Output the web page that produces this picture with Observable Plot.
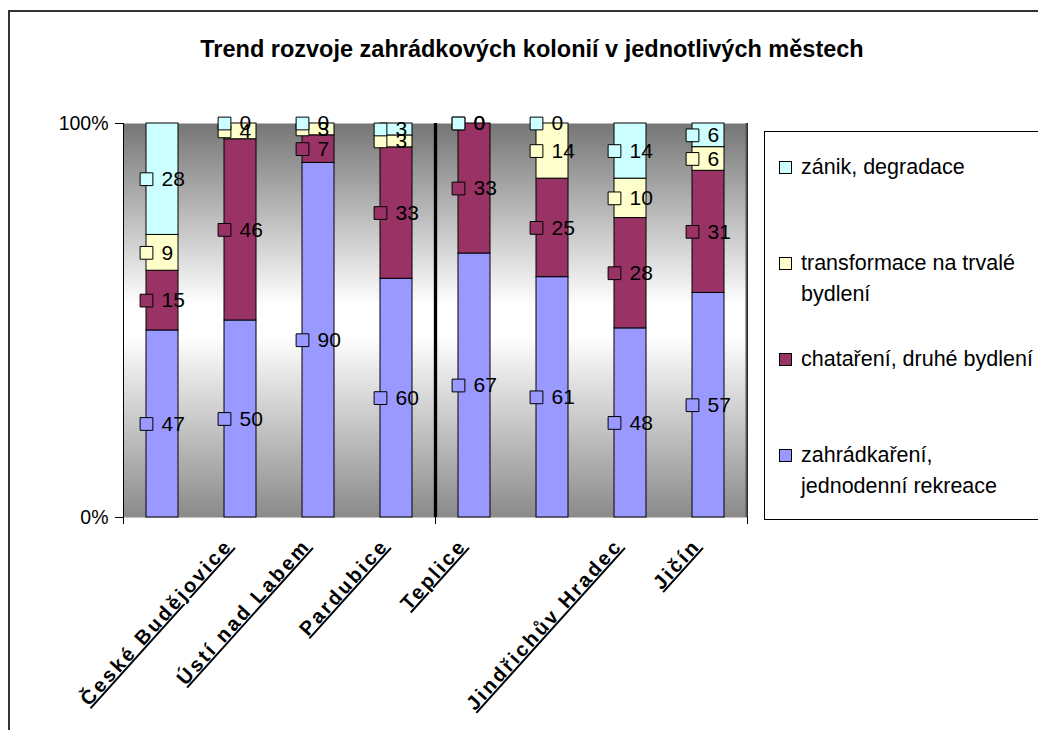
<!DOCTYPE html>
<html><head><meta charset="utf-8">
<script src="https://cdn.jsdelivr.net/npm/d3@7"></script>
<script src="https://cdn.jsdelivr.net/npm/@observablehq/plot@0.6"></script>
<style>
html,body{margin:0;padding:0;background:#fff;overflow:hidden;width:1038px;height:730px}
#wrap{position:relative;width:1038px;height:730px;overflow:hidden;font-family:Arial,"Liberation Sans",sans-serif;color:#000}
#border{position:absolute;left:8px;top:10px;width:1100px;height:800px;border-left:2px solid #333;border-top:2px solid #333}
#title{position:absolute;left:0;top:35px;width:1064px;text-align:center;font-weight:bold;font-size:23.5px;line-height:28px}
#chart{position:absolute;left:0;top:0}
#legend{position:absolute;left:764px;top:131px;width:300px;height:389px;border:1px solid #000;box-sizing:border-box;padding-top:20px;background:#fff}
.item{position:relative;height:96px;font-size:21.5px;line-height:31px;padding-left:36px;white-space:pre}
.sw{position:absolute;left:14px;top:9px;width:13px;height:13px;border:1px solid #000;box-sizing:border-box}
</style></head><body>
<div id="wrap">
  <div id="border"></div>
  <div id="chart"></div>
  <div id="title"></div>
  <div id="legend"></div>
</div>
<script>
const titleText = "Trend rozvoje zahrádkových kolonií v jednotlivých městech";
const categories = ["České Budějovice","Ústí nad Labem","Pardubice","Teplice","město 5","Jindřichův Hradec","Jičín","město 8"];
const tickLabels = ["České Budějovice","Ústí nad Labem","Pardubice","Teplice","","Jindřichův Hradec","Jičín",""];
const seriesNames = ["zahrádkaření, jednodenní rekreace","chataření, druhé bydlení","transformace na trvalé bydlení","zánik, degradace"];
const seriesColors = ["#9999FF","#993366","#FFFFCC","#CCFFFF"];
const legendLabels = ["zahrádkaření,\njednodenní rekreace","chataření, druhé bydlení","transformace na trvalé\nbydlení","zánik, degradace"];
const zahradkareni = [47,50,90,60,67,61,48,57];
const chatareni    = [15,46, 7,33,33,25,28,31];
const transformace = [ 9, 4, 3, 3, 0,14,10, 6];
const zanik        = [28, 0, 0, 3, 0, 0,14, 6];
const seriesValues = [zahradkareni, chatareni, transformace, zanik];

const rows = [];
categories.forEach((c, i) => seriesNames.forEach((s, k) => rows.push({city: c, series: s, value: seriesValues[k][i]})));

document.getElementById("title").textContent = titleText;

const W = 760, H = 730, ML = 123, MR = 13, MT = 123, MB = 213;
const step = (W - ML - MR) / categories.length;
const stackOpts = {offset: "normalize", order: seriesNames};

const svg = Plot.plot({
  width: W, height: H, marginLeft: ML, marginRight: MR, marginTop: MT, marginBottom: MB,
  style: {fontFamily: "Arial, 'Liberation Sans', sans-serif", fontSize: "19.5px", background: "transparent", color: "#000", overflow: "visible"},
  x: {domain: categories, paddingInner: 0.59, paddingOuter: 0.295, axis: null},
  y: {domain: [0, 1], ticks: [0, 1], tickFormat: d3.format(".0%"), tickSize: 8, tickPadding: 7, label: null},
  color: {domain: seriesNames, range: seriesColors},
  marks: [
    Plot.frame({fill: "url(#bgGrad)", stroke: "none"}),
    Plot.barY(rows, Plot.stackY(stackOpts, {x: "city", y: "value", fill: "series", stroke: "#000", strokeWidth: 1})),
    Plot.ruleX([categories[0]], {dx: -step / 2, stroke: "#000", strokeWidth: 1, insetBottom: -7}),
    Plot.ruleX([categories[4]], {dx: -step / 2, stroke: "#000", strokeWidth: 1, insetBottom: -7}),
    Plot.ruleX([categories[4]], {dx: -step / 2, stroke: "#000", strokeWidth: 3.3}),
    Plot.ruleX([categories[categories.length - 1]], {dx: step / 2, stroke: "#000", strokeWidth: 1, insetBottom: -7}),
    Plot.ruleX([categories[categories.length - 1]], {dx: step / 2 - 1, stroke: "#555", strokeWidth: 2}),
    Plot.dot(rows, Plot.stackY(stackOpts, {x: "city", y: "value", fill: "series", stroke: "#000", strokeWidth: 1, symbol: "square", r: 7.2, dx: -16})),
    Plot.text(rows, Plot.stackY(stackOpts, {x: "city", y: "value", z: "series", text: d => String(d.value), textAnchor: "start", dx: -1, fontSize: 21, fill: "#000"})),
    Plot.text(categories, {x: d => d, text: (d, i) => tickLabels[i], frameAnchor: "bottom", dy: 29, dx: 71, rotate: -48, textAnchor: "end", fontWeight: "bold", fontSize: 20, fill: "#000"})
  ]
});

const ns = "http://www.w3.org/2000/svg";
const defs = document.createElementNS(ns, "defs");
defs.innerHTML = '<linearGradient id="bgGrad" x1="0" y1="0" x2="0" y2="1">' +
  '<stop offset="0" stop-color="#767676"/>' +
  '<stop offset="0.46" stop-color="#ffffff"/>' +
  '<stop offset="0.54" stop-color="#ffffff"/>' +
  '<stop offset="1" stop-color="#8a8a8a"/></linearGradient>';
svg.insertBefore(defs, svg.firstChild);
svg.querySelectorAll('g[font-weight="bold"] text').forEach(t => {
  t.style.letterSpacing = "2.8px";
  t.style.textDecoration = "underline";
});
document.getElementById("chart").appendChild(svg);

const legend = document.getElementById("legend");
for (let k = seriesNames.length - 1; k >= 0; k--) {
  const it = document.createElement("div");
  it.className = "item";
  const sw = document.createElement("div");
  sw.className = "sw";
  sw.style.background = seriesColors[k];
  it.appendChild(sw);
  it.appendChild(document.createTextNode(legendLabels[k]));
  legend.appendChild(it);
}
</script>
</body></html>
